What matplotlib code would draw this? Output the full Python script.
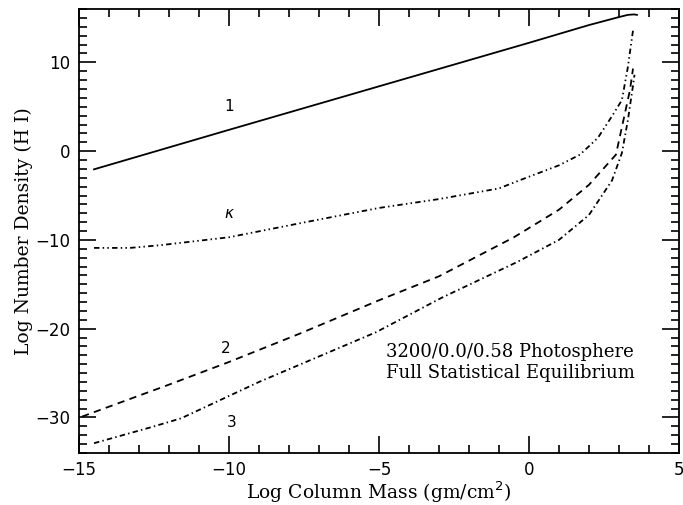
import numpy as np
import matplotlib.pyplot as plt
from matplotlib.ticker import MultipleLocator

# curva 1 (linha cheia)
x_1 = [-14.5, -10.0, -5.0, 0.0, 2.0, 3.0, 3.3, 3.5, 3.6]
y_1 = [-2.05, 2.4, 7.3, 12.2, 14.2, 15.1, 15.35, 15.4, 15.35]

# curva kappa (traço-ponto-ponto)
x_k = [-14.5, -13.3, -12.3, -10.0, -7.6, -5.0, -3.0, -1.0, -0.4, 1.0, 1.7, 2.3, 2.8, 3.1, 3.3, 3.47]
y_k = [-10.9, -10.9, -10.6, -9.7, -8.1, -6.4, -5.4, -4.2, -3.4, -1.6, -0.4, 1.5, 4.1, 5.75, 9.5, 13.6]

# curva 2 (tracejada)
x_2 = [-14.9, -12.0, -10.0, -7.6, -5.0, -3.0, -0.5, 1.0, 2.0, 2.9, 3.37, 3.47]
y_2 = [-29.9, -26.3, -23.75, -20.5, -16.8, -14.1, -9.7, -6.6, -3.8, -0.4, 6.9, 9.3]

# curva 3 (traço-ponto)
x_3 = [-14.5, -12.6, -11.6, -9.0, -5.1, -2.9, -0.4, 1.0, 2.0, 2.77, 3.1, 3.3, 3.47, 3.52]
y_3 = [-32.9, -31.1, -30.1, -26.0, -20.4, -16.5, -12.5, -10.0, -7.2, -3.3, -0.2, 3.5, 7.4, 8.6]

rotulos = ['1', r'$\kappa$', '2', '3']
pos_rotulos = [(-10.0, 5.0), (-10.0, -7.0), (-10.1, -22.2), (-9.9, -30.6)]

fig = plt.figure(figsize=(6.83, 5.05), dpi=100)
ax = fig.add_axes([0.1157, 0.103, 0.994 - 0.1157, 0.982 - 0.103])

lw = 1.3
ax.plot(x_1, y_1, color='black', lw=lw, linestyle='-')
ax.plot(x_k, y_k, color='black', lw=lw, linestyle=(0, (3, 1.8, 0.8, 1.8, 0.8, 1.8)))
ax.plot(x_2, y_2, color='black', lw=lw, linestyle=(0, (4, 3)))
ax.plot(x_3, y_3, color='black', lw=lw, linestyle=(0, (3, 1.8, 0.8, 1.8)))

for txt, (xt, yt) in zip(rotulos, pos_rotulos):
    ax.text(xt, yt, txt, ha='center', va='center', fontsize=11, family='DejaVu Sans')

ax.text(0.512, 0.203, '3200/0.0/0.58 Photosphere\nFull Statistical Equilibrium',
        transform=ax.transAxes, fontsize=13, family='DejaVu Serif',
        ha='left', va='center', linespacing=1.2)

ax.set_xlim(-15, 5)
ax.set_ylim(-34, 16)
ax.xaxis.set_major_locator(MultipleLocator(5))
ax.xaxis.set_minor_locator(MultipleLocator(1))
ax.yaxis.set_major_locator(MultipleLocator(10))
ax.yaxis.set_minor_locator(MultipleLocator(1))
ax.tick_params(which='both', direction='in', top=True, right=True, width=1.2)
ax.tick_params(which='major', length=12, labelsize=12, pad=6)
ax.tick_params(which='minor', length=6)
for sp in ax.spines.values():
    sp.set_linewidth(1.3)

ax.set_xlabel('Log Column Mass (gm/cm$^2$)', family='DejaVu Serif', fontsize=13.5, labelpad=0)
ax.set_ylabel('Log Number Density (H I)', family='DejaVu Serif', fontsize=13.5, labelpad=2)

fig.savefig('out.png', dpi=100)
